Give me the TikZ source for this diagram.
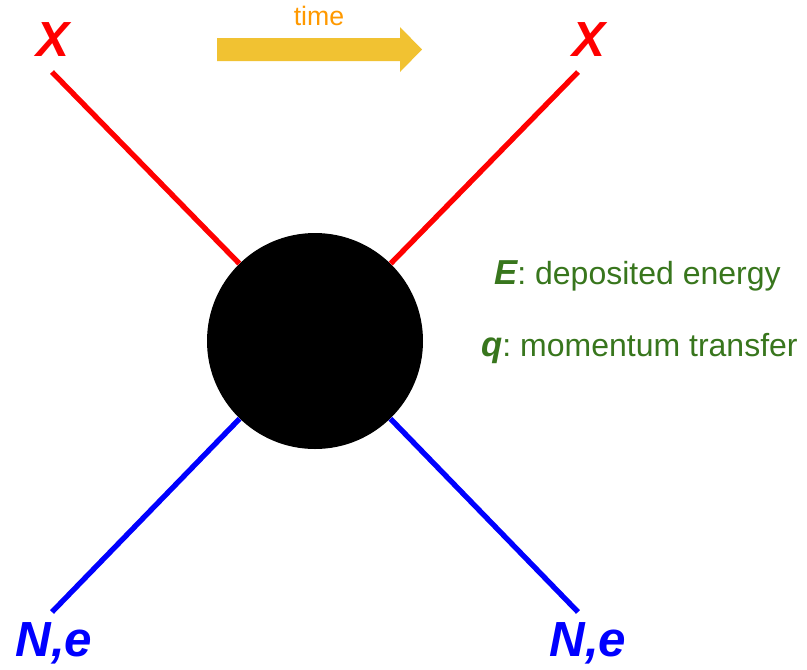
\documentclass[tikz,border=0pt]{standalone}
\usepackage{fontspec}
\setmainfont{Liberation Sans}
\frenchspacing
\usetikzlibrary{positioning,calc}
\definecolor{XRED}{HTML}{FF0000}
\definecolor{NBLUE}{HTML}{0000FF}
\definecolor{TGREEN}{HTML}{38761D}
\definecolor{ARROWY}{HTML}{F1C232}
\definecolor{TORANGE}{HTML}{FF9900}
\tikzset{
    leg/.style={line width=4pt},
    lbl/.style={font=\fontsize{37}{40}\selectfont\bfseries\itshape,inner sep=0pt},
    info/.style={font=\fontsize{24}{28}\selectfont,text=TGREEN,inner sep=0pt,anchor=base west},
}
\begin{document}
\begin{tikzpicture}[x=0.75pt,y=-0.75pt]
    \useasboundingbox (0,0) rectangle (807,669);
    % vertex
    \node[circle,fill=black,inner sep=0pt,minimum size=162pt] (blob) at (315,341) {};
    % external legs
    \node[lbl,text=XRED] (X1) at (53,40) {X};
    \node[lbl,text=XRED] (X2) at (589,40) {X};
    \node[lbl,text=NBLUE] (N1) at (54,643) {N,e};
    \node[lbl,text=NBLUE] (N2) at (588,643) {N,e};
    \coordinate (a1) at (52,72);
    \coordinate (a2) at (578,72);
    \coordinate (b1) at (52,612);
    \coordinate (b2) at (578,612);
    \draw[leg,XRED] (a1) -- (blob);
    \draw[leg,XRED] (a2) -- (blob);
    \draw[leg,NBLUE] (b1) -- (blob);
    \draw[leg,NBLUE] (b2) -- (blob);
    % time arrow
    \fill[ARROWY] (217,38) -- (400,38) -- (400,27) -- (422,49.5) -- (400,72) -- (400,61) -- (217,61) -- cycle;
    \node[font=\fontsize{20}{24}\selectfont,text=TORANGE,inner sep=0pt] (T) at (319,16) {time};
    % kinematics
    \node[info] (E) at (494,284) {{\fontsize{26}{28}\selectfont\bfseries\itshape E}: deposited energy};
    \node[info] (Q) at (481,356) {{\fontsize{26}{28}\selectfont\bfseries\itshape q}: momentum transfer};
\end{tikzpicture}
\end{document}
